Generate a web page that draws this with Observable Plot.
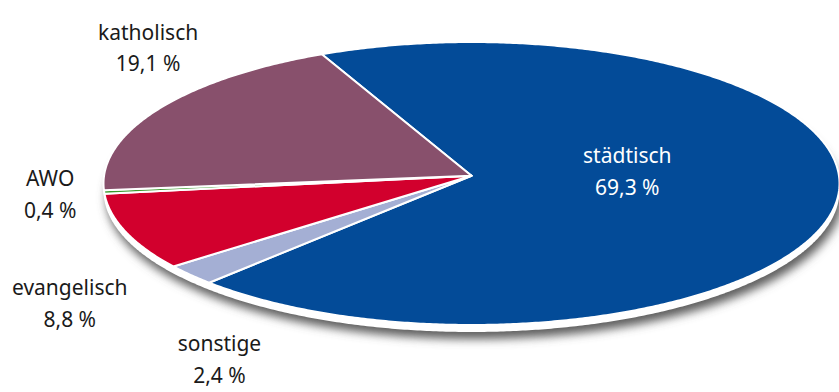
<!DOCTYPE html>
<html><head><meta charset="utf-8">
<script src="https://cdn.jsdelivr.net/npm/d3@7"></script>
<script src="https://cdn.jsdelivr.net/npm/@observablehq/plot@0.6"></script>
<style>body{margin:0;background:#fff;} #chart svg{display:block;}</style>
</head><body><div id="chart"></div>
<script>
// Data
const categories = ["städtisch", "sonstige", "evangelisch", "AWO", "katholisch"];
const values = [69.3, 2.4, 8.8, 0.4, 19.1];
const valueLabels = ["69,3 %", "2,4 %", "8,8 %", "0,4 %", "19,1 %"];
const colors = ["#034b98", "#a4afd4", "#d2002d", "#3a9a2c", "#88506c"];

// Layout / style
const startDeg = -24;          // rotation of the pie
const hubY = 0.055;            // slight perspective offset of the hub
const stepDeg = 0.5;
const labelNudge = {           // pixel offsets from each slice's anchor
  "städtisch": [-25, -28],
  "sonstige": [29, 82],
  "evangelisch": [-56, 69],
  "AWO": [-54, 0],
  "katholisch": [-10, -64]
};

const rows = categories.map((c, i) => ({category: c, value: values[i], label: valueLabels[i], color: colors[i]}));
const rad = Math.PI / 180;
const arcs = d3.pie().sort(null).value(d => d.value)
  .startAngle(startDeg * rad).endAngle((startDeg + 360) * rad)(rows);

const slicePts = [];
for (const a of arcs) {
  const c = a.data.category, col = a.data.color;
  slicePts.push({category: c, color: col, x: 0, y: hubY});
  const n = Math.max(2, Math.ceil((a.endAngle - a.startAngle) / (stepDeg * rad)));
  for (let k = 0; k <= n; k++) {
    const t = a.startAngle + (a.endAngle - a.startAngle) * k / n;
    slicePts.push({category: c, color: col, x: Math.sin(t), y: Math.cos(t)});
  }
  slicePts.push({category: c, color: col, x: 0, y: hubY});
}

const rim = d3.range(0, 360 + stepDeg, stepDeg).map(d => ({x: Math.sin(d * rad), y: Math.cos(d * rad)}));

const labelMarks = arcs.map(a => {
  const mid = (a.startAngle + a.endAngle) / 2;
  const inside = a.data.value > 50;
  const f = inside ? 0.5 : 1;
  const [dx, dy] = labelNudge[a.data.category];
  return Plot.text([{x: f * Math.sin(mid), y: f * Math.cos(mid), t: a.data.category + "\n" + a.data.label}], {
    x: "x", y: "y", text: "t", dx, dy,
    fill: inside ? "#ffffff" : "#1a1a1a",
    fontSize: 21, lineHeight: 1.5, textAnchor: "middle",
    fontFamily: "Noto Sans, sans-serif"
  });
});

const chart = Plot.plot({
  width: 839, height: 392, margin: 0,
  style: {background: "#fff", overflow: "visible"},
  x: {domain: [-1, 1], range: [103, 839], axis: null},
  y: {domain: [-1, 1], range: [324.5, 41.5], axis: null},
  color: {type: "identity"},
  marks: [
    Plot.line(rim, {x: "x", y: "y", fill: "#5e5e5e", stroke: "none", dy: 14, dx: 3}),
    Plot.line(rim, {x: "x", y: "y", fill: "#ffffff", stroke: "none", dy: 7}),
    Plot.line(slicePts, {x: "x", y: "y", z: "category", fill: "color", stroke: "#ffffff", strokeWidth: 2, strokeLinejoin: "round"}),
    ...labelMarks
  ]
});

// soft drop shadow under the pie slab
const svg = d3.select(chart);
const defs = svg.insert("defs", ":first-child");
defs.append("filter").attr("id", "pieShadow").attr("x", "-10%").attr("y", "-20%").attr("width", "120%").attr("height", "140%")
  .append("feGaussianBlur").attr("stdDeviation", 5);
const firstLine = chart.querySelector('g[aria-label="line"]');
if (firstLine) firstLine.setAttribute("filter", "url(#pieShadow)");

document.getElementById("chart").appendChild(chart);
</script>
</body></html>
